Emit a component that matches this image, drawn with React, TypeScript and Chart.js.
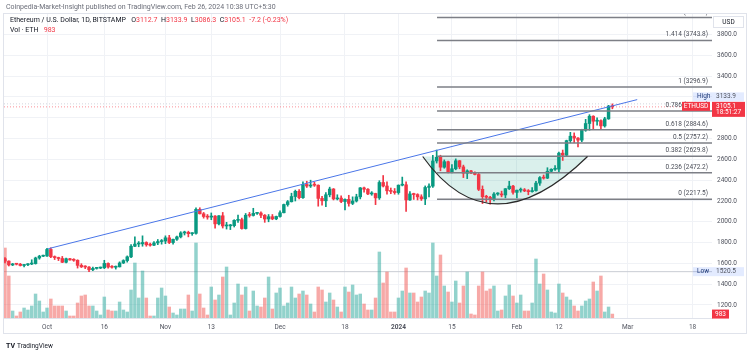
import React, { useEffect, useRef } from 'react';
import { Chart, registerables } from 'chart.js';
Chart.register(...registerables);

// ---- data ----
// day numbers relative to 2023-10-01; first candle is 2023-09-20
const firstDay = -11;
const opens = [
  1645,1622,1585,1593,1592,1580,1587,1594,1598,1652, 1669,1671,1734,1664,1656,1647,1611,1645,1633,1630,
  1581,1567,1565,1539,1552,1555,1558,1600,1565,1563, 1567,1604,1627,1663,1765,1786,1788,1801,1779,1775,
  1797,1810,1815,1846,1800,1832,1855,1893,1899,1886, 1889,2120,2077,2051,2045,2055,1980,2058,1960,1961,
  1963,2014,2021,1935,2063,2061,2081,2084,2063,2027, 2049,2028,2051,2087,2166,2193,2243,2293,2232,2359,
  2344,2353,2352,2225,2202,2260,2315,2220,2228,2195, 2216,2177,2200,2240,2326,2313,2268,2272,2230,2378,
  2344,2298,2292,2281,2352,2356,2210,2268,2262,2240, 2220,2330,2343,2585,2620,2525,2578,2475,2510,2587,
  2528,2467,2490,2470,2455,2312,2242,2236,2218,2267, 2268,2258,2318,2343,2283,2304,2308,2297,2290,2300,
  2372,2425,2420,2486,2505,2506,2660,2640,2780,2823, 2805,2785,2880,2945,3015,2967,2973,2922,2990,3112.7,
];
const highs = [
  1655,1625,1600,1598,1600,1592,1598,1635,1660,1678, 1680,1745,1750,1672,1660,1667,1652,1648,1645,1635,
  1597,1578,1570,1565,1562,1565,1630,1606,1580,1575, 1615,1635,1672,1780,1855,1810,1865,1808,1795,1810,
  1830,1830,1865,1870,1835,1862,1905,1910,1910,1895, 2135,2135,2090,2070,2085,2060,2060,2090,1995,1975,
  2020,2065,2035,2080,2090,2130,2092,2095,2070,2070, 2070,2055,2105,2170,2205,2275,2305,2310,2385,2390,
  2400,2380,2355,2245,2280,2333,2320,2260,2250,2222, 2255,2240,2265,2330,2335,2320,2290,2275,2395,2445,
  2385,2325,2320,2355,2430,2385,2290,2275,2270,2260, 2345,2365,2640,2690,2640,2595,2585,2550,2605,2590,
  2545,2500,2495,2480,2465,2345,2255,2245,2280,2280, 2295,2320,2390,2350,2305,2325,2320,2310,2330,2390,
  2435,2450,2520,2510,2540,2670,2690,2785,2860,2855, 2810,2890,2985,3030,3020,3000,2980,3005,3120,3133.9,
];
const lows = [
  1605,1575,1578,1585,1575,1565,1578,1588,1593,1640, 1665,1668,1655,1637,1627,1607,1605,1630,1620,1555,
  1560,1550,1520.5,1530,1545,1550,1550,1555,1553,1545, 1565,1598,1612,1655,1760,1760,1765,1765,1765,1770,
  1780,1785,1790,1790,1785,1820,1845,1873,1855,1870, 1880,2075,2035,2025,2020,1938,1970,1940,1930,1925,
  1950,1995,1930,1930,2045,2055,2070,2040,1995,2000, 2020,2020,2045,2085,2150,2190,2200,2220,2225,2330,
  2330,2340,2150,2160,2145,2240,2210,2210,2185,2115, 2150,2165,2190,2220,2285,2260,2255,2165,2215,2335,
  2265,2270,2265,2265,2345,2100,2205,2215,2210,2205, 2165,2240,2330,2565,2490,2515,2470,2470,2500,2510,
  2425,2415,2462,2450,2300,2175,2190,2170,2200,2255, 2240,2230,2310,2265,2230,2285,2290,2260,2285,2295,
  2350,2410,2415,2475,2495,2480,2590,2630,2760,2760, 2720,2770,2870,2880,2890,2930,2895,2910,2985,3086.3,
];
const closes = [
  1622,1585,1593,1592,1580,1587,1594,1598,1652,1669, 1671,1734,1664,1656,1647,1611,1645,1633,1630,1581,
  1567,1565,1539,1552,1555,1558,1600,1565,1563,1567, 1604,1627,1663,1765,1786,1788,1801,1779,1775,1797,
  1810,1815,1846,1800,1832,1855,1893,1899,1886,1889, 2120,2077,2051,2045,2055,1980,2058,1960,1961,1963,
  2014,2021,1935,2063,2061,2081,2084,2063,2027,2049, 2028,2051,2087,2166,2193,2243,2293,2232,2359,2344,
  2353,2352,2225,2202,2260,2315,2220,2228,2195,2216, 2177,2200,2240,2326,2313,2268,2272,2230,2378,2344,
  2298,2292,2281,2352,2356,2210,2268,2262,2240,2220, 2330,2343,2585,2620,2525,2578,2475,2510,2587,2528,
  2467,2490,2470,2455,2312,2242,2236,2218,2267,2268, 2258,2318,2343,2283,2304,2308,2297,2290,2300,2372,
  2425,2420,2486,2505,2506,2660,2640,2780,2823,2805, 2785,2880,2945,3015,2967,2973,2922,2990,3112.3,3105.1,
];
const volumes = [
  17500,10500,1750,500,1500,2500,2000,3000,6000,4250, 1500,2500,4750,3000,3000,3000,1750,500,500,3750,
  5500,5750,3000,3000,1750,750,5250,2000,1750,1750, 4000,2000,1500,7000,13750,5000,11750,5000,500,500,
  5000,7500,5500,2750,1250,750,2250,2250,5750,1750, 18750,6000,2500,750,7750,4500,5750,10250,12750,750,
  3750,8500,5750,7750,1750,6750,3000,2750,5000,10250, 2250,6250,7500,3000,3750,7750,5000,6000,6750,5750,
  3500,1500,7750,7000,4000,6250,4500,2750,1500,7750, 6500,8250,5750,6000,3500,2000,2000,5000,16500,8750,
  11500,1500,1500,5000,6750,12500,6250,6250,4000,5250, 6750,6250,18750,10500,15750,8000,6500,4000,9250,3750,
  8000,11500,1000,750,8000,11500,6750,7250,8000,1750, 2000,5500,8250,5500,3750,5750,1750,1750,3750,14750,
  8500,11000,7000,1500,1250,8500,6250,5250,4500,3000, 1750,3000,4250,4750,9000,6750,10500,1500,2750,983,
];

const dateTickDays = [0, 15, 31, 43, 61, 78, 92, 106, 123, 134, 152, 169];
const dateTickLabels = ['Oct', '16', 'Nov', '13', 'Dec', '18', '2024', '15', 'Feb', '12', 'Mar', '18'];
const priceTicks = [1200, 1400, 1600, 1800, 2000, 2200, 2400, 2600, 2800, 3000, 3200, 3400, 3600, 3800];
const hiddenPriceLabels = [3000, 3200];

const fibBase = 2217.5;
const fibTop = 3296.9;
const fibRatios = [0, 0.236, 0.382, 0.5, 0.618, 0.786, 1, 1.414, 1.618];
const fibStartDay = 102.1;

const trendStart = [0.3, 1741];
const trendEnd = [154.5, 3175];

const cupStart = [98.35, 2628];
const cupBottom = [118, 2172];
const cupEnd = [141.5, 2628];

const rangeHigh = 3133.9;
const rangeLow = 1520.5;
const lastTime = '18:51:27';

const X_MIN = -11.26;
const X_MAX = 174.08;
const Y_MIN = 1075;
const Y_MAX = 3998;
const VOL_MAX = 76000;

const GREEN = '#089981';
const RED = '#f23645';
const VOL_GREEN = 'rgba(38,166,154,0.5)';
const VOL_RED = 'rgba(239,83,80,0.5)';
const FONT = 'Roboto, "Noto Sans", sans-serif';
const TEXT = '#50535e';

const days = closes.map((_, i) => firstDay + i);
const up = closes.map((c, i) => c >= opens[i]);

function fibPrice(r: number) {
  return fibBase + r * (fibTop - fibBase);
}

const overlayPlugin = {
  id: 'overlay',
  beforeDatasetsDraw(chart: any) {
    const { ctx, chartArea, scales } = chart;
    const x = scales.x, y = scales.y;
    ctx.save();
    ctx.beginPath();
    ctx.rect(chartArea.left, chartArea.top, chartArea.right - chartArea.left, chartArea.bottom - chartArea.top);
    ctx.clip();
    const p0 = { x: x.getPixelForValue(cupStart[0]), y: y.getPixelForValue(cupStart[1]) };
    const pm = { x: x.getPixelForValue(cupBottom[0]), y: y.getPixelForValue(cupBottom[1]) };
    const p2 = { x: x.getPixelForValue(cupEnd[0]), y: y.getPixelForValue(cupEnd[1]) };
    const c = { x: 2 * pm.x - (p0.x + p2.x) / 2, y: 2 * pm.y - (p0.y + p2.y) / 2 };
    ctx.beginPath();
    ctx.moveTo(p0.x, p0.y);
    ctx.quadraticCurveTo(c.x, c.y, p2.x, p2.y);
    ctx.closePath();
    ctx.fillStyle = 'rgba(8,153,129,0.15)';
    ctx.fill();
    ctx.restore();
  },
  afterDatasetsDraw(chart: any) {
    const { ctx, chartArea, scales } = chart;
    const x = scales.x, y = scales.y;
    ctx.save();
    ctx.beginPath();
    ctx.rect(chartArea.left, chartArea.top, chartArea.right - chartArea.left, chartArea.bottom - chartArea.top);
    ctx.clip();
    // cup arc
    const p0 = { x: x.getPixelForValue(cupStart[0]), y: y.getPixelForValue(cupStart[1]) };
    const pm = { x: x.getPixelForValue(cupBottom[0]), y: y.getPixelForValue(cupBottom[1]) };
    const p2 = { x: x.getPixelForValue(cupEnd[0]), y: y.getPixelForValue(cupEnd[1]) };
    const c = { x: 2 * pm.x - (p0.x + p2.x) / 2, y: 2 * pm.y - (p0.y + p2.y) / 2 };
    ctx.beginPath();
    ctx.moveTo(p0.x, p0.y);
    ctx.quadraticCurveTo(c.x, c.y, p2.x, p2.y);
    ctx.strokeStyle = '#2a2a2a';
    ctx.lineWidth = 1.2;
    ctx.stroke();
    // fib labels
    ctx.font = `6.5px ${FONT}`;
    ctx.fillStyle = '#4a4d57';
    ctx.textAlign = 'right';
    ctx.textBaseline = 'alphabetic';
    for (const r of fibRatios) {
      const p = fibPrice(r);
      const py = y.getPixelForValue(p);
      ctx.fillText(`${r} (${p.toFixed(1)})`, chartArea.right - 4, py - 4);
    }
    ctx.restore();
  },
  afterDraw(chart: any) {
    const { ctx, scales } = chart;
    const y = scales.y, yVol = scales.yVol;
    const last = closes.length - 1;
    ctx.save();
    // frame
    ctx.strokeStyle = '#e0e3eb';
    ctx.lineWidth = 1;
    ctx.strokeRect(3.5, 13.5, 743, 320);
    // header
    ctx.font = `7px ${FONT}`;
    ctx.textBaseline = 'middle';
    ctx.textAlign = 'left';
    ctx.fillStyle = '#6a6d78';
    ctx.fillText('Coinpedia-Market-Insight published on TradingView.com, Feb 26, 2024 10:38 UTC+5:30', 6, 7);
    // legend
    const chg = closes[last] - closes[last - 1];
    const pct = (chg / closes[last - 1]) * 100;
    const segs: [string, string][] = [
      ['Ethereum / U.S. Dollar, 1D, BITSTAMP   ', '#131722'],
      ['O', '#131722'], [opens[last].toFixed(1), RED],
      ['  H', '#131722'], [highs[last].toFixed(1), RED],
      ['  L', '#131722'], [lows[last].toFixed(1), RED],
      ['  C', '#131722'], [closes[last].toFixed(1), RED],
      [`  ${chg.toFixed(1)} (${pct.toFixed(2)}%)`, RED],
    ];
    let lx = 10;
    for (const [t, col] of segs) {
      ctx.fillStyle = col;
      ctx.fillText(t, lx, 20.5);
      lx += ctx.measureText(t).width;
    }
    ctx.fillStyle = '#131722';
    ctx.fillText('Vol · ETH', 10, 30.5);
    ctx.fillStyle = RED;
    ctx.fillText(String(volumes[last]), 10 + ctx.measureText('Vol · ETH   ').width, 30.5);

    ctx.font = `6.5px ${FONT}`;
    // USD box
    ctx.strokeStyle = '#e0e3eb';
    ctx.strokeRect(713.5, 16.5, 30, 11);
    ctx.fillStyle = '#131722';
    ctx.textAlign = 'center';
    ctx.fillText('USD', 728.5, 22.5);

    // price label
    const priceY = y.getPixelForValue(closes[last]);
    const boxTop = priceY - 5;
    ctx.fillStyle = RED;
    ctx.fillRect(682, boxTop, 28, 9);
    ctx.fillRect(712, boxTop, 33, 15);
    ctx.fillStyle = '#ffffff';
    ctx.textAlign = 'center';
    ctx.fillText('ETHUSD', 696, boxTop + 4.7);
    ctx.textAlign = 'left';
    ctx.fillText(closes[last].toFixed(1), 716, boxTop + 4.5);
    ctx.fillText(lastTime, 716, boxTop + 11);

    // High label
    const hy = Math.min(y.getPixelForValue(rangeHigh), boxTop - 5);
    ctx.fillStyle = 'rgba(41,98,255,0.13)';
    ctx.fillRect(693, hy - 4.5, 51, 9);
    ctx.fillStyle = '#1f3a78';
    ctx.textAlign = 'left';
    ctx.fillText('High', 697, hy);
    ctx.fillStyle = TEXT;
    ctx.fillText(rangeHigh.toFixed(1), 716, hy);

    // Low label
    const ly = y.getPixelForValue(rangeLow);
    ctx.fillStyle = 'rgba(41,98,255,0.13)';
    ctx.fillRect(693, ly - 4.5, 51, 9);
    ctx.fillStyle = '#1f3a78';
    ctx.fillText('Low', 697, ly);
    ctx.fillStyle = TEXT;
    ctx.fillText(rangeLow.toFixed(1), 716, ly);

    // volume label
    const vy = yVol.getPixelForValue(volumes[last]);
    ctx.fillStyle = RED;
    ctx.fillRect(712, vy - 4.5, 17, 9);
    ctx.fillStyle = '#ffffff';
    ctx.textAlign = 'center';
    ctx.fillText(String(volumes[last]), 720.5, vy);

    // TradingView logo
    ctx.textAlign = 'left';
    ctx.fillStyle = '#131722';
    ctx.font = `bold 7px ${FONT}`;
    ctx.fillText('TV', 6, 346);
    ctx.font = `6.5px ${FONT}`;
    ctx.fillText('TradingView', 17, 346);
    ctx.restore();
  },
};

export default function App() {
  const ref = useRef<HTMLCanvasElement>(null);
  useEffect(() => {
    const lineDs = (data: any[], color: string, width: number, dash: number[] = [], order = 0) => ({
      type: 'line',
      data,
      borderColor: color,
      borderWidth: width,
      borderDash: dash,
      pointRadius: 0,
      fill: false,
      tension: 0,
      order,
      yAxisID: 'y',
    });
    const datasets: any[] = [
      {
        type: 'bar',
        yAxisID: 'yVol',
        data: volumes.map((v, i) => ({ x: days[i], y: v })),
        backgroundColor: up.map((u) => (u ? VOL_GREEN : VOL_RED)),
        barThickness: 2.8,
        grouped: false,
        borderWidth: 0,
        order: 3,
      },
      {
        type: 'bar',
        yAxisID: 'y',
        data: lows.map((l, i) => ({ x: days[i], y: [l, highs[i]] })),
        backgroundColor: up.map((u) => (u ? GREEN : RED)),
        barThickness: 1,
        grouped: false,
        borderWidth: 0,
        order: 2,
      },
      {
        type: 'bar',
        yAxisID: 'y',
        data: opens.map((o, i) => ({ x: days[i], y: [o, closes[i]] })),
        backgroundColor: up.map((u) => (u ? GREEN : RED)),
        barThickness: 2.8,
        minBarLength: 1,
        grouped: false,
        borderWidth: 0,
        order: 1,
      },
      lineDs([{ x: X_MIN, y: rangeLow }, { x: X_MAX, y: rangeLow }], '#c9ccd4', 1, [], 4),
      lineDs([{ x: X_MIN, y: rangeHigh }, { x: X_MAX, y: rangeHigh }], 'rgba(180,185,200,0.6)', 1, [1, 2], 4),
      lineDs([{ x: X_MIN, y: closes[closes.length - 1] }, { x: X_MAX, y: closes[closes.length - 1] }], 'rgba(242,54,69,0.55)', 1, [1, 2], 4),
      ...fibRatios.map((r) =>
        lineDs([{ x: fibStartDay, y: fibPrice(r) }, { x: X_MAX, y: fibPrice(r) }], '#7d7f86', 1.5, [], 0)
      ),
      lineDs([{ x: trendStart[0], y: trendStart[1] }, { x: trendEnd[0], y: trendEnd[1] }], '#4a76e8', 1, [], 0),
    ];

    const chart = new Chart(ref.current as HTMLCanvasElement, {
      type: 'bar',
      data: { datasets },
      options: {
        responsive: false,
        animation: false,
        devicePixelRatio: 1,
        events: [],
        layout: { padding: { left: 4, top: 14, right: 0, bottom: 0 } },
        plugins: { legend: { display: false }, tooltip: { enabled: false } },
        scales: {
          x: {
            type: 'linear',
            min: X_MIN,
            max: X_MAX,
            offset: false,
            afterBuildTicks: (s: any) => {
              s.ticks = dateTickDays.map((v) => ({ value: v }));
            },
            afterFit: (s: any) => {
              s.height = 34;
            },
            grid: { color: '#f0f2f6', drawTicks: false, offset: false },
            border: { display: true, color: '#e0e3eb' },
            ticks: {
              autoSkip: false,
              maxRotation: 0,
              padding: 5,
              color: TEXT,
              font: (c: any) => ({
                family: FONT,
                size: 6.5,
                weight: c.tick && c.tick.value === 92 ? 'bold' : 'normal',
              }),
              callback: (_v: any, i: number) => dateTickLabels[i],
            },
          },
          y: {
            type: 'linear',
            position: 'right',
            min: Y_MIN,
            max: Y_MAX,
            afterBuildTicks: (s: any) => {
              s.ticks = priceTicks.map((v) => ({ value: v }));
            },
            afterFit: (s: any) => {
              s.width = 38;
            },
            grid: { color: '#f0f2f6', drawTicks: false },
            border: { display: false },
            ticks: {
              padding: 5,
              color: TEXT,
              font: { family: FONT, size: 6.5 },
              callback: (v: any) => (hiddenPriceLabels.includes(Number(v)) ? '' : Number(v).toFixed(1)),
            },
          },
          yVol: {
            type: 'linear',
            display: false,
            min: 0,
            max: VOL_MAX,
          },
        },
      } as any,
      plugins: [overlayPlugin],
    } as any);
    return () => chart.destroy();
  }, []);
  return (
    <div style={{ position: 'absolute', left: 0, top: 0, width: 750, height: 352, background: '#ffffff' }}>
      <canvas ref={ref} width={750} height={352} style={{ display: 'block' }} />
    </div>
  );
}
